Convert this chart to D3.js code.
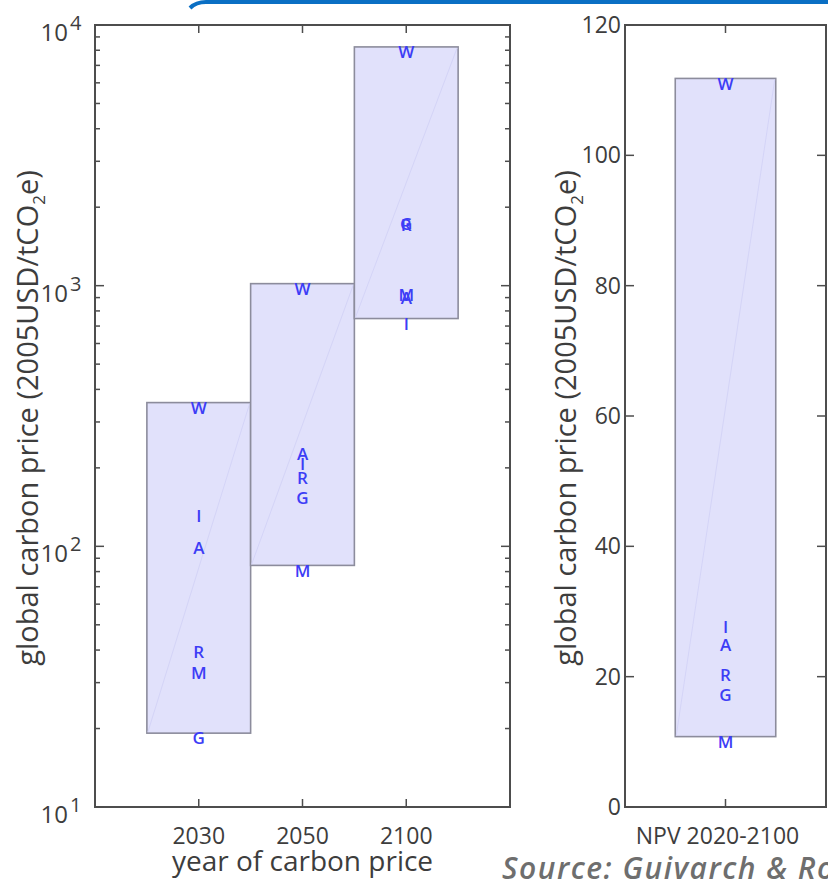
<!DOCTYPE html>
<html>
<head>
<meta charset="utf-8">
<script src="https://cdn.jsdelivr.net/npm/d3@7"></script>
<style>
  html, body { margin: 0; padding: 0; background: #fff; }
  svg { display: block; }
  .lbl { font-family: "Open Sans", "Noto Sans", sans-serif; fill: #3d3d3d; }
  .mdl { font-family: "Open Sans", "Noto Sans", sans-serif; font-weight: 600; fill: #3d3df6; }
</style>
</head>
<body>
<svg id="chart" width="828" height="880"></svg>
<script>
// Global carbon price ranges by model, for three years and the NPV 2020-2100
const years = ["2030", "2050", "2100"];
const models = ["W", "I", "A", "R", "M", "G"];
const priceW = [356, 1018, 8240];
const priceI = [137, 217, 748];
const priceA = [103.5, 237, 940];
const priceR = [41, 192, 1790];
const priceM = [34.1, 84.5, 965];
const priceG = [19.2, 161, 1810];
const npvLabel = "NPV 2020-2100";
const npvValues = [111.8, 28.4, 25.6, 21.0, 10.8, 18.0]; // W, I, A, R, M, G
const logTicks = [10, 100, 1000, 10000];
const npvTicks = [0, 20, 40, 60, 80, 100, 120];
const yTitle = "global carbon price (2005USD/tCO";
const xTitle = "year of carbon price";
const sourceText = "Source: Guivarch & Rozenberg";

const byModel = { W: priceW, I: priceI, A: priceA, R: priceR, M: priceM, G: priceG };

const svg = d3.select("#chart");
const axisColor = "#4d4d4d";
const boxFill = "#e1e1fb";
const boxStroke = "#8c8c9c";

function label(g, x, y, str, size, anchor) {
  return g.append("text").attr("class", "lbl").attr("font-size", size)
    .attr("x", x).attr("y", y)
    .attr("text-anchor", anchor || "middle").text(str);
}

// slide frame accent along the top edge
svg.append("path")
  .attr("d", "M828,2 L206,2 Q196,2 190,8")
  .attr("fill", "none").attr("stroke", "#0a6fc4").attr("stroke-width", 4);

// ---------- left panel: log price by year ----------
const p1 = { left: 95, right: 510, top: 25, bottom: 807 };
const x1 = d3.scaleLinear().domain([0, 4]).range([p1.left, p1.right]);
const y1 = d3.scaleLog().domain([10, 10000]).range([p1.bottom, p1.top]);

const g1 = svg.append("g");

years.forEach((yr, i) => {
  const vals = models.map(m => byModel[m][i]);
  const lo = d3.min(vals), hi = d3.max(vals);
  const xa = x1(i + 0.5), xb = x1(i + 1.5);
  g1.append("rect")
    .attr("x", xa).attr("y", y1(hi))
    .attr("width", xb - xa).attr("height", y1(lo) - y1(hi))
    .attr("fill", boxFill).attr("stroke", boxStroke).attr("stroke-width", 1.6);
  g1.append("line")
    .attr("x1", xa + 1).attr("y1", y1(lo) - 1).attr("x2", xb - 1).attr("y2", y1(hi) + 1)
    .attr("stroke", "#d4d4f7").attr("stroke-width", 1);
});

years.forEach((yr, i) => {
  models.forEach(m => {
    g1.append("text").attr("class", "mdl")
      .attr("x", x1(i + 1)).attr("y", y1(byModel[m][i]) + 5)
      .attr("dy", "0.36em").attr("text-anchor", "middle")
      .attr("font-size", 17).text(m);
  });
});

function frame(g, p) {
  g.append("rect").attr("x", p.left).attr("y", p.top)
    .attr("width", p.right - p.left).attr("height", p.bottom - p.top)
    .attr("fill", "none").attr("stroke", axisColor).attr("stroke-width", 2);
}
frame(g1, p1);

const minor1 = [];
logTicks.slice(0, -1).forEach(t => { for (let k = 2; k <= 9; k++) minor1.push(t * k); });
minor1.forEach(v => {
  g1.append("line").attr("x1", p1.left).attr("x2", p1.left + 5).attr("y1", y1(v)).attr("y2", y1(v))
    .attr("stroke", axisColor).attr("stroke-width", 1.5);
  g1.append("line").attr("x1", p1.right).attr("x2", p1.right - 5).attr("y1", y1(v)).attr("y2", y1(v))
    .attr("stroke", axisColor).attr("stroke-width", 1.5);
});
logTicks.forEach(v => {
  g1.append("line").attr("x1", p1.left).attr("x2", p1.left + 9).attr("y1", y1(v)).attr("y2", y1(v))
    .attr("stroke", axisColor).attr("stroke-width", 1.5);
  g1.append("line").attr("x1", p1.right).attr("x2", p1.right - 9).attr("y1", y1(v)).attr("y2", y1(v))
    .attr("stroke", axisColor).attr("stroke-width", 1.5);
  const e = Math.round(Math.log10(v));
  label(g1, 68, y1(v) + 16, "10", 24, "end");
  label(g1, 70, y1(v) + 5, String(e), 20, "start");
});
years.forEach((yr, i) => {
  const xx = x1(i + 1);
  g1.append("line").attr("x1", xx).attr("x2", xx).attr("y1", p1.bottom).attr("y2", p1.bottom - 8)
    .attr("stroke", axisColor).attr("stroke-width", 1.5);
  g1.append("line").attr("x1", xx).attr("x2", xx).attr("y1", p1.top).attr("y2", p1.top + 8)
    .attr("stroke", axisColor).attr("stroke-width", 1.5);
  label(g1, xx, 844, yr, 23);
});
label(g1, x1(2), 871, xTitle, 28);

function yAxisTitle(g, cx, cy) {
  const t = g.append("text").attr("class", "lbl").attr("font-size", 29)
    .attr("transform", `translate(${cx},${cy}) rotate(-90)`)
    .attr("text-anchor", "middle").attr("dy", "0.36em");
  t.append("tspan").text(yTitle);
  t.append("tspan").attr("font-size", 17).attr("dy", 7).text("2");
  t.append("tspan").attr("dy", -7).text("e)");
}
yAxisTitle(g1, 28, 418);

// ---------- right panel: NPV 2020-2100 ----------
const p2 = { left: 625, right: 826, top: 25, bottom: 807 };
const x2 = d3.scaleLinear().domain([0, 2]).range([p2.left, p2.right]);
const y2 = d3.scaleLinear().domain([0, 120]).range([p2.bottom, p2.top]);
const g2 = svg.append("g");

{
  const lo = d3.min(npvValues), hi = d3.max(npvValues);
  const xa = x2(0.5), xb = x2(1.5);
  g2.append("rect").attr("x", xa).attr("y", y2(hi))
    .attr("width", xb - xa).attr("height", y2(lo) - y2(hi))
    .attr("fill", boxFill).attr("stroke", boxStroke).attr("stroke-width", 1.6);
  g2.append("line")
    .attr("x1", xa + 1).attr("y1", y2(lo) - 1).attr("x2", xb - 1).attr("y2", y2(hi) + 1)
    .attr("stroke", "#d4d4f7").attr("stroke-width", 1);
  models.forEach((m, k) => {
    g2.append("text").attr("class", "mdl")
      .attr("x", x2(1)).attr("y", y2(npvValues[k]) + 5)
      .attr("dy", "0.36em").attr("text-anchor", "middle")
      .attr("font-size", 17).text(m);
  });
}
frame(g2, p2);
npvTicks.forEach(v => {
  g2.append("line").attr("x1", p2.left).attr("x2", p2.left + 9).attr("y1", y2(v)).attr("y2", y2(v))
    .attr("stroke", axisColor).attr("stroke-width", 1.5);
  g2.append("line").attr("x1", p2.right).attr("x2", p2.right - 9).attr("y1", y2(v)).attr("y2", y2(v))
    .attr("stroke", axisColor).attr("stroke-width", 1.5);
  label(g2, p2.left - 4, y2(v) + 8, String(v), 23, "end");
});
g2.append("line").attr("x1", x2(1)).attr("x2", x2(1)).attr("y1", p2.bottom).attr("y2", p2.bottom - 8)
  .attr("stroke", axisColor).attr("stroke-width", 1.5);
g2.append("line").attr("x1", x2(1)).attr("x2", x2(1)).attr("y1", p2.top).attr("y2", p2.top + 8)
  .attr("stroke", axisColor).attr("stroke-width", 1.5);
label(g2, x2(1) - 8, 844, npvLabel, 23);
yAxisTitle(g2, 566, 418);

// source note
svg.append("text")
  .attr("x", 502).attr("y", 879)
  .attr("font-family", "'Open Sans', sans-serif")
  .attr("font-style", "italic").attr("font-weight", 600)
  .attr("font-size", 30).attr("letter-spacing", 1.5).attr("fill", "#6e6e6e")
  .text(sourceText);
</script>
</body>
</html>
